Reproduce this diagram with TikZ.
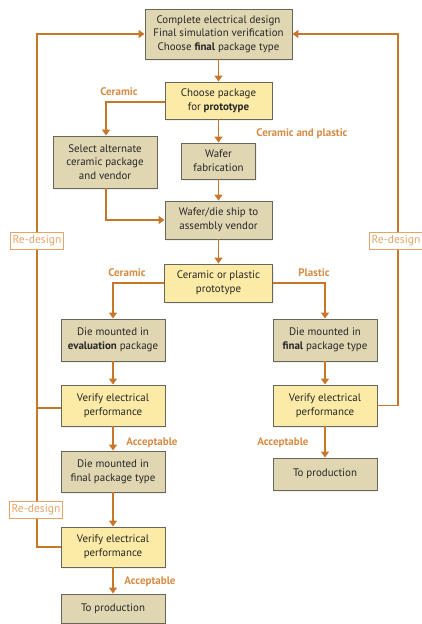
\documentclass[tikz,border=0pt]{standalone}
\usepackage{fontspec}
\setmainfont{PT Sans}
\usetikzlibrary{arrows.meta,shadows}
\definecolor{tanfill}{HTML}{E0D6B2}
\definecolor{yelfill}{HTML}{FCEBA6}
\definecolor{boxline}{HTML}{66665A}
\definecolor{flow}{HTML}{C8772A}
\definecolor{lbl}{HTML}{D68C45}
\definecolor{redes}{HTML}{E4A56A}
\tikzset{
  box/.style={draw=boxline, line width=0.9pt, align=center, inner sep=1pt,
    font=\fontsize{10.9}{13.6}\selectfont, text=black!85,
    drop shadow={opacity=0.12, shadow xshift=1pt, shadow yshift=-2pt}},
  tanbox/.style={box, fill=tanfill},
  yelbox/.style={box, fill=yelfill},
  flowline/.style={draw=flow, line width=1.6pt},
  arr/.style={flowline, -{Triangle[width=8pt,length=6pt]}},
  lab/.style={text=lbl, font=\fontsize{11}{13}\selectfont\bfseries, inner sep=0pt},
  rd/.style={draw=redes, line width=0.7pt, fill=white, text=redes,
    font=\fontsize{11.5}{13}\selectfont, inner sep=2pt, minimum height=17pt}
}
\begin{document}
\begin{tikzpicture}[x=1pt,y=-1pt]
\useasboundingbox (0,0) rectangle (422,624);
% boxes
\node[tanbox, minimum width=147pt, minimum height=50pt] (top) at (218.5,34)
  {Complete electrical design\\Final simulation verification\\Choose \textbf{final} package type};
\node[yelbox, minimum width=107pt, minimum height=37pt] (proto) at (218.5,100.5)
  {Choose package\\for \textbf{prototype}};
\node[tanbox, minimum width=104pt, minimum height=52pt] (alt) at (105,162)
  {Select alternate\\ceramic package\\and vendor};
\node[tanbox, minimum width=74pt, minimum height=36pt] (wafer) at (218.5,161)
  {Wafer\\fabrication};
\node[tanbox, minimum width=107pt, minimum height=38pt] (ship) at (218.5,220)
  {Wafer/die ship to\\assembly vendor};
\node[yelbox, minimum width=108pt, minimum height=38pt] (cp) at (218.5,283)
  {Ceramic or plastic\\prototype};
\node[tanbox, minimum width=104pt, minimum height=42pt] (eval) at (113,340)
  {Die mounted in\\\textbf{evaluation} package};
\node[tanbox, minimum width=104pt, minimum height=42pt] (final) at (325,340)
  {Die mounted in\\\textbf{final} package type};
\node[yelbox, minimum width=104pt, minimum height=41pt] (v1) at (113,405.5)
  {Verify electrical\\performance};
\node[yelbox, minimum width=104pt, minimum height=41pt] (v2) at (325,405.5)
  {Verify electrical\\performance};
\node[tanbox, minimum width=104pt, minimum height=41pt] (dm2) at (113,471.5)
  {Die mounted in\\final package type};
\node[yelbox, minimum width=104pt, minimum height=40pt] (v3) at (113,547)
  {Verify electrical\\performance};
\node[tanbox, minimum width=104pt, minimum height=29pt] (prod1) at (113,608.5)
  {To production};
\node[tanbox, minimum width=104pt, minimum height=32pt] (prod2) at (325,474)
  {To production};
% helper coordinates
\coordinate (lx) at (37,0);
\coordinate (rx) at (398,0);
\coordinate (altx) at (106,0);
\coordinate (v1j) at (37,408);
% main flow
\draw[arr] (top) -- (proto);
\draw[arr] (proto) -- (wafer);
\draw[arr] (wafer) -- (ship);
\draw[arr] (ship) -- (cp);
\draw[arr] ([yshift=-1.5pt]proto.west) -| (alt.north -| altx);
\draw[arr] (alt.south -| altx) |- (ship.west);
\draw[arr] (cp.west) -| (eval.north);
\draw[arr] (cp.east) -| (final.north);
\draw[arr] (eval) -- (v1);
\draw[arr] (final) -- (v2);
\draw[arr] (v1) -- (dm2);
\draw[arr] (dm2) -- (v3);
\draw[arr] (v3) -- (prod1);
\draw[arr] (v2) -- (prod2);
% re-design loops
\draw[flowline] (v1.west |- v1j) -- (v1j);
\draw[arr] (v3.west) -- (v3.west -| lx) -- (top.west -| lx) -- (top.west);
\draw[arr] (v2.east) -- (v2.east -| rx) -- (top.east -| rx) -- (top.east);
\node[rd] (rd1) at (37,240.5) {Re-design};
\node[rd] (rd2) at (36,510) {Re-design};
\node[rd] (rd3) at (396,240.5) {Re-design};
% labels
\node[lab] (l1) at (119,92) {Ceramic};
\node[lab] (l2) at (302,134) {Ceramic and plastic};
\node[lab] (l3) at (127,273) {Ceramic};
\node[lab] (l4) at (314,273) {Plastic};
\node[lab] (l5) at (152,443) {Acceptable};
\node[lab] (l6) at (283,443) {Acceptable};
\node[lab] (l7) at (150,582) {Acceptable};
\end{tikzpicture}
\end{document}
